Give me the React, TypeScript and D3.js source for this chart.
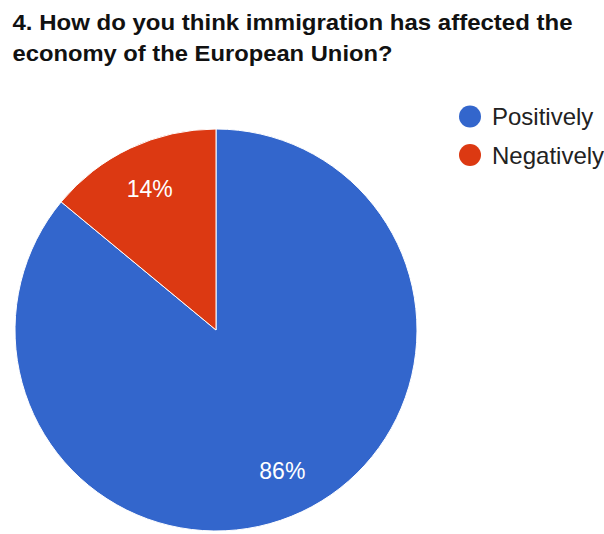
import React from "react";
import * as d3 from "d3";

const categories = ["Positively", "Negatively"];
const values = [86, 14];
const colors = ["#3366cc", "#dc3912"];
const titleLines = ["4. How do you think immigration has affected the", "economy of the European Union?"];
const titleWidths = [560, 380];

export default function App() {
  const width = 604;
  const height = 534;
  const cx = 216;
  const cy = 330;
  const R = 201;
  const pie = d3.pie<number>().sort(null).value((d) => d)(values);
  const arc = d3.arc<d3.PieArcDatum<number>>().innerRadius(0).outerRadius(R);
  const labelArc = d3.arc<d3.PieArcDatum<number>>().innerRadius(R * 0.775).outerRadius(R * 0.775);
  const total = d3.sum(values);
  return (
    <svg width={width} height={height} style={{ position: "absolute", left: 0, top: 0, fontFamily: "Arial, 'Liberation Sans', sans-serif" }}>
      <rect width={width} height={height} fill="#fff" />
      {titleLines.map((t, i) => (
        <text key={i} x={12.5} y={30 + i * 31} fontSize={22} fontWeight="bold" fill="#111"
          textLength={titleWidths[i]} lengthAdjust="spacingAndGlyphs">{t}</text>
      ))}
      <g transform={`translate(${cx},${cy})`}>
        {pie.map((p, i) => (
          <path key={i} d={arc(p) || ""} fill={colors[i]} stroke="#fff" strokeWidth={1} />
        ))}
        {pie.map((p, i) => {
          const [x, y] = labelArc.centroid(p);
          return (
            <text key={"l" + i} x={x} y={y} dy="0.36em" textAnchor="middle" fontSize={23} fill="#fff">
              {Math.round((values[i] / total) * 100) + "%"}
            </text>
          );
        })}
      </g>
      {categories.map((c, i) => (
        <g key={c} transform={`translate(470,${116.5 + i * 38.5})`}>
          <circle r={11} fill={colors[i]} />
          <text x={22} dy="0.36em" fontSize={24} fill="#222">{c}</text>
        </g>
      ))}
    </svg>
  );
}
